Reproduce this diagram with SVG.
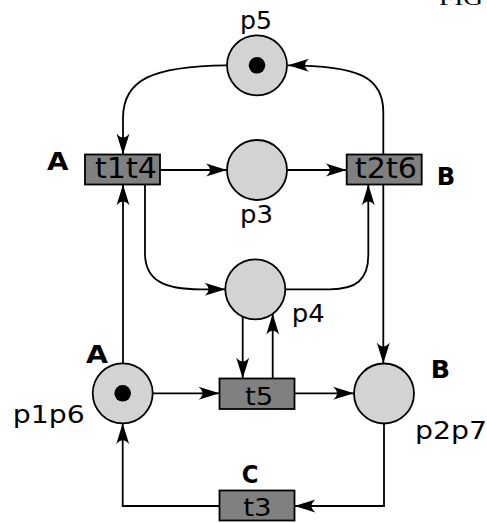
<svg xmlns="http://www.w3.org/2000/svg" width="487" height="523" viewBox="0 0 487 523">
<style>
.place{fill:#d3d3d3;stroke:#000;stroke-width:1.8}
.trans{fill:#808080;stroke:#000;stroke-width:1.8}
.tok{fill:#000}
.arc{fill:none;stroke:#000;stroke-width:1.8;marker-end:url(#ah)}
.lbl{font-family:"DejaVu Sans",sans-serif;font-size:25px;fill:#000}
.tl{font-family:"DejaVu Sans",sans-serif;font-size:29px;fill:#000}
.ts{font-family:"DejaVu Sans",sans-serif;font-size:24px;fill:#000}
.bl{font-family:"DejaVu Sans",sans-serif;font-size:25px;font-weight:bold;fill:#000}
.fig{font-family:"Liberation Serif",serif;font-size:22px;fill:#000}
</style>
<defs>
<marker id="ah" markerUnits="userSpaceOnUse" orient="auto" refX="0" refY="0" markerWidth="30" markerHeight="30" overflow="visible">
<path d="M0,0 L-21,-6.5 Q-13,0 -21,6.5 Z" fill="#000"/>
</marker>
</defs>
<text class="fig" x="439" y="4.5" textLength="44" lengthAdjust="spacingAndGlyphs">FIG</text>
<g id="connectors">
<path class="arc" d="M226.7,65.3 C152,66 123,80 123,118 L123,154.5"/>
<path class="arc" d="M383.3,154.5 L383.3,112 C383.3,78 360,65.3 288,65.3"/>
<path class="arc" d="M160,170 L227,170"/>
<path class="arc" d="M287,170 L346.7,170"/>
<path class="arc" d="M123,363.3 L123,184.5"/>
<path class="arc" d="M145,184.5 L145,255 C146,281 165,289.3 200,289.3 L225.5,289.3"/>
<path class="arc" d="M285.3,289.3 L330,289.3 C356,289.3 368.3,280 368.3,255 L368.3,184.5"/>
<path class="arc" d="M383.3,184.5 L383.3,363.5"/>
<path class="arc" d="M242.7,316.5 L242.7,378.5"/>
<path class="arc" d="M272.7,378.5 L272.7,313.7"/>
<path class="arc" d="M152.7,393.3 L219.5,393.3"/>
<path class="arc" d="M294.5,393.3 L354,393.3"/>
<path class="arc" d="M384,423.5 L384,506 L294.5,506"/>
<path class="arc" d="M219.5,506 L122.7,506 L122.7,423.3"/>
</g>
<g id="p5">
<circle class="place" cx="257" cy="65.3" r="30"/>
<circle class="tok" cx="257" cy="65.3" r="8.3"/>
<text class="lbl" x="240" y="28.5" textLength="32" lengthAdjust="spacingAndGlyphs">p5</text>
</g>
<g id="p3">
<circle class="place" cx="257" cy="170" r="30"/>
<text class="lbl" x="240" y="223" textLength="33" lengthAdjust="spacingAndGlyphs">p3</text>
</g>
<g id="p4">
<circle class="place" cx="255.3" cy="289.3" r="30"/>
<text class="lbl" x="291.7" y="322" textLength="33" lengthAdjust="spacingAndGlyphs">p4</text>
</g>
<g id="p1p6">
<circle class="place" cx="122.7" cy="393.3" r="30"/>
<circle class="tok" cx="122.7" cy="393.3" r="8.3"/>
<text class="lbl" x="12.7" y="423.3" textLength="72" lengthAdjust="spacingAndGlyphs">p1p6</text>
<text class="bl" x="86" y="363.3" textLength="22" lengthAdjust="spacingAndGlyphs">A</text>
</g>
<g id="p2p7">
<circle class="place" cx="384" cy="393.5" r="30"/>
<text class="lbl" x="415" y="438.5" textLength="72" lengthAdjust="spacingAndGlyphs">p2p7</text>
<text class="bl" x="430.7" y="378.3" textLength="19.3" lengthAdjust="spacingAndGlyphs">B</text>
</g>
<g id="t1t4">
<rect class="trans" x="85" y="154.5" width="75" height="30"/>
<text class="tl" x="95" y="178.3" textLength="62" lengthAdjust="spacingAndGlyphs">t1t4</text>
<text class="bl" x="47" y="170" textLength="21.5" lengthAdjust="spacingAndGlyphs">A</text>
</g>
<g id="t2t6">
<rect class="trans" x="346.7" y="154.5" width="75" height="30"/>
<text class="tl" x="355" y="178.3" textLength="62" lengthAdjust="spacingAndGlyphs">t2t6</text>
<text class="bl" x="436.7" y="185" textLength="18.5" lengthAdjust="spacingAndGlyphs">B</text>
</g>
<g id="t5">
<rect class="trans" x="219.5" y="378.5" width="75" height="30.5"/>
<text class="ts" x="245" y="405" textLength="28.3" lengthAdjust="spacingAndGlyphs">t5</text>
</g>
<g id="t3">
<rect class="trans" x="219.5" y="490.5" width="75" height="30"/>
<text class="ts" x="243.3" y="516" textLength="28.4" lengthAdjust="spacingAndGlyphs">t3</text>
<text class="bl" x="241.7" y="483.3" textLength="16.7" lengthAdjust="spacingAndGlyphs">C</text>
</g>
</svg>
